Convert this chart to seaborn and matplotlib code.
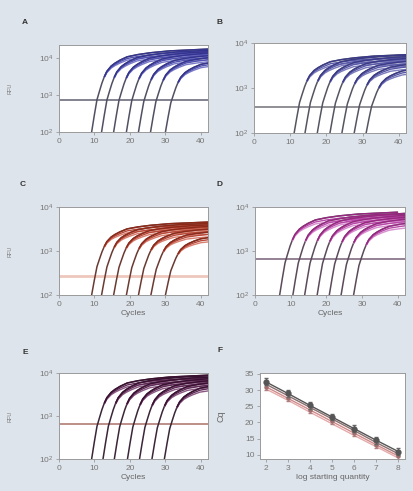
import numpy as np
import pandas as pd
import seaborn as sns
import matplotlib.pyplot as plt

# shape of one amplification curve (cycles after leaving 10^2, decades above 10^2)
tmpl_cycle = [-0.5, 0, 0.75, 1.5, 2.2, 2.9, 3.6, 4.3, 5.5, 6.6, 8, 10, 13, 16.6, 22, 33]
tmpl_rise = [-0.5, 0, 0.45, 0.87, 1.1, 1.32, 1.5, 1.64, 1.78, 1.86, 1.94, 2.03, 2.09, 2.14, 2.19, 2.24]
# extra spread of the replicates on the plateau (decades)
tmpl_spread = [0, 0, 0, 0, 0, 0.01, 0.02, 0.03, 0.045, 0.055, 0.065, 0.075, 0.085, 0.09, 0.1, 0.1]

# cycle where each curve leaves 10^2, and its height
starts_a = [9.2, 12.0, 15.4, 19.0, 22.4, 25.8, 30.0]
gain_a = [1.0, 0.99, 0.98, 0.97, 0.95, 0.94, 0.9]
starts_b = [11.1, 14.1, 17.5, 21.0, 24.3, 27.7, 31.0]
gain_b = [0.78, 0.78, 0.77, 0.76, 0.74, 0.72, 0.68]
starts_c = [9.2, 12.0, 15.4, 19.0, 22.4, 25.9, 30.0]
gain_c = [0.74, 0.73, 0.72, 0.71, 0.69, 0.67, 0.63]
starts_d = [6.9, 10.6, 13.9, 17.4, 20.8, 24.1, 27.6]
gain_d = [0.84, 0.83, 0.83, 0.82, 0.81, 0.8, 0.77]
starts_e = [9.2, 12.4, 15.6, 19.3, 22.7, 26.2, 29.7]
gain_e = [0.87, 0.87, 0.86, 0.85, 0.84, 0.83, 0.81]

thresholds = {"A": 730, "B": 370, "C": 270, "D": 660, "E": 660}
ytops = {"A": 10 ** 4.35, "B": 1e4, "C": 1e4, "D": 1e4, "E": 1e4}

# standard curve (panel F)
log_qty = [2, 3, 4, 5, 6, 7, 8]
cq_1 = [32.6, 29.0, 25.3, 21.7, 18.1, 14.5, 11.0]
cq_2 = [31.9, 28.3, 24.7, 21.1, 17.5, 13.8, 10.3]
cq_3 = [31.1, 27.5, 23.9, 20.3, 16.7, 13.1, 9.6]
cq_4 = [30.4, 26.9, 23.2, 19.6, 16.0, 12.5, 9.0]
cq_err = [1.0, 1.0, 1.1, 0.9, 1.0, 1.1, 1.2]

bg = "#dee4eb"
sns.set_theme(style="white")
plt.rcParams["font.family"] = ["Liberation Sans", "DejaVu Sans"]
plt.rcParams["axes.edgecolor"] = "#9a9a9a"
plt.rcParams["xtick.color"] = "#9a9a9a"
plt.rcParams["ytick.color"] = "#9a9a9a"
plt.rcParams["xtick.labelcolor"] = "#777777"
plt.rcParams["ytick.labelcolor"] = "#777777"

fig = plt.figure(figsize=(4.14, 4.91), dpi=100, facecolor=bg)

panels = {
    "A": ([0.1425, 0.7312, 0.36, 0.1772], starts_a, gain_a, "#505062",
          ["#34348f", "#5050b0", "#7a7ac8"], "#6a6a78"),
    "B": ([0.6135, 0.7291, 0.367, 0.1833], starts_b, gain_b, "#555562",
          ["#3a3a88", "#5858a8", "#7c7cbc"], "#7a7a80"),
    "C": ([0.1425, 0.3992, 0.36, 0.1792], starts_c, gain_c, "#6a3a32",
          ["#8c2a1a", "#b8483a", "#d88070"], "#e8b0a0"),
    "D": ([0.616, 0.3992, 0.3623, 0.1792], starts_d, gain_d, "#5a4a5a",
          ["#96287f", "#b848a8", "#d890d0"], "#806a80"),
    "E": ([0.1425, 0.0652, 0.36, 0.1752], starts_e, gain_e, "#3a2638",
          ["#3a1030", "#5e2a56", "#8a5a82"], "#b07a70"),
}
letter_pos = {"A": (25, 23), "B": (220, 22), "C": (23, 185), "D": (220, 185),
              "E": (25, 352), "F": (220, 350)}

tc = np.array(tmpl_cycle)
tr = np.array(tmpl_rise)
ts = np.array(tmpl_spread)

for name, (rect, starts, gains, dark, cols, thr_col) in panels.items():
    ax = fig.add_axes(rect)
    rows = []
    for i, (s, g) in enumerate(zip(starts, gains)):
        for rep in range(3):
            for c, r, sp in zip(tc, tr, ts):
                rows.append({"curve": i, "rep": rep, "cycle": s + c, "off": c,
                             "rfu": 10 ** (2 + r * g - rep * sp * 0.6)})
    df = pd.DataFrame(rows)
    # dark rising part
    sns.lineplot(data=df[df.rep == 0], x="cycle", y="rfu", units="curve",
                 estimator=None, color=dark, lw=1.1, ax=ax, sort=False)
    # coloured replicates on the plateau
    plat = df[df.off >= 3.6]
    for rep in [2, 1, 0]:
        sns.lineplot(data=plat[plat.rep == rep], x="cycle", y="rfu", units="curve",
                     estimator=None, color=cols[rep], lw=1.0, ax=ax, sort=False)
    ax.axhline(thresholds[name], color=thr_col, lw=1.3 if name != "C" else 2.0,
               alpha=0.9 if name != "C" else 0.7, zorder=1)
    ax.set_yscale("log")
    ax.set_xlim(0, 42)
    ax.set_ylim(100, ytops[name])
    ax.set_xticks([0, 10, 20, 30, 40])
    ax.set_yticks([1e2, 1e3, 1e4])
    ax.minorticks_off()
    ax.tick_params(labelsize=6, length=2.5, width=0.6, pad=1.5, bottom=True, left=True)
    ax.set_xlabel("Cycles" if name in "CDE" else "", fontsize=6, color="#666666", labelpad=2)
    ax.set_ylabel("RFU" if name in "ACE" else "", fontsize=4, color="#777777")
    ax.yaxis.set_label_coords(-0.31, 0.5)
    for sp_ in ax.spines.values():
        sp_.set_linewidth(0.7)

# panel F
ax = fig.add_axes([0.628, 0.0652, 0.3502, 0.1752])
line_cols = ["#555555", "#8a7070", "#d08a8a", "#e6aaaa"]
for cq, col in zip([cq_4, cq_3, cq_2, cq_1], line_cols[::-1]):
    sns.lineplot(x=log_qty, y=cq, color=col, lw=1.0, ax=ax)
ax.errorbar(log_qty, cq_1, yerr=cq_err, fmt="o", ms=3.5, color="#555555",
            ecolor="#666666", elinewidth=0.8, capsize=1.5, zorder=5)
ax.errorbar(log_qty, cq_3, yerr=cq_err, fmt="o", ms=2.2, color="#a07070",
            ecolor="#b08080", elinewidth=0.6, capsize=1.2, zorder=4)
ax.set_xlim(1.75, 8.3)
ax.set_ylim(8.7, 35.3)
ax.set_xticks(log_qty)
ax.set_yticks([10, 15, 20, 25, 30, 35])
ax.tick_params(labelsize=6, length=2.5, width=0.6, pad=1.5, bottom=True, left=True)
ax.set_xlabel("log starting quantity", fontsize=6, color="#666666", labelpad=2)
ax.set_ylabel("Cq", fontsize=6.5, color="#666666")
ax.yaxis.set_label_coords(-0.24, 0.5)
for sp_ in ax.spines.values():
    sp_.set_linewidth(0.7)

for name, (px, py) in letter_pos.items():
    fig.text(px / 414, 1 - py / 491, name, fontsize=6, fontweight="bold",
             color="#333333", ha="center", va="center")

fig.savefig("out.png", dpi=100, facecolor=bg)
